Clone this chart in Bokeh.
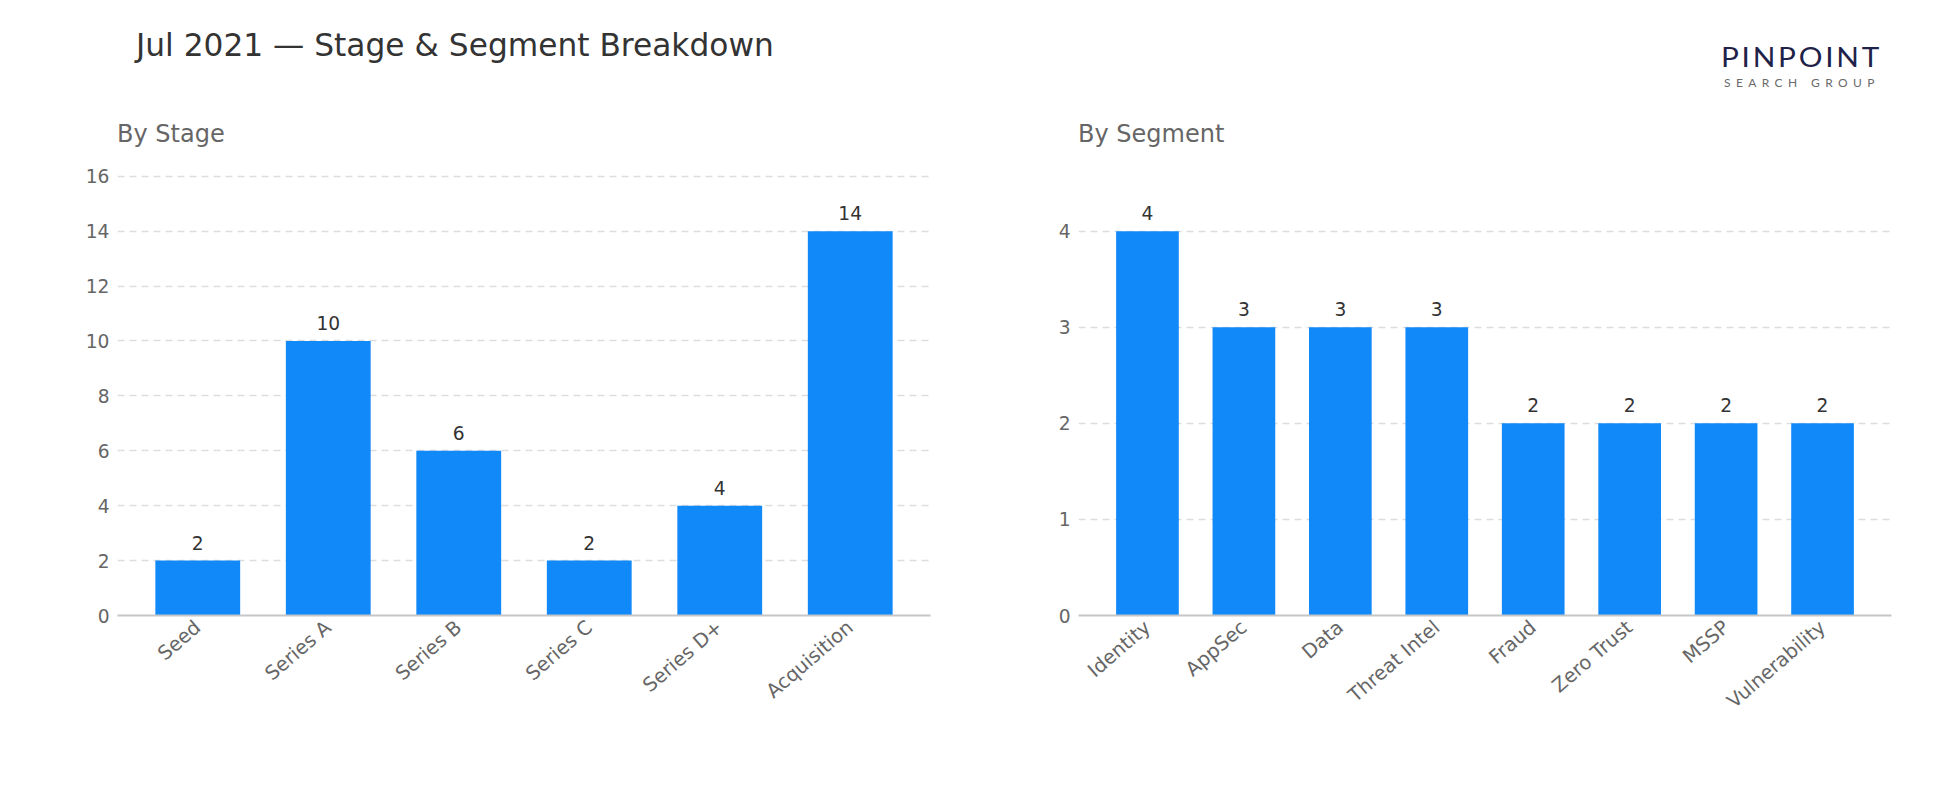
from bokeh.plotting import figure
from bokeh.layouts import column, row
from bokeh.models import ColumnDataSource, FixedTicker, LabelSet, Div, FactorRange
from bokeh.core.properties import value
from bokeh.embed import file_html
from bokeh.resources import INLINE

# ---- data -------------------------------------------------------------
title_text = "Jul 2021 — Stage & Segment Breakdown"

stage_title = "By Stage"
stage_categories = ["Seed", "Series A", "Series B", "Series C", "Series D+", "Acquisition"]
stage_counts = [2, 10, 6, 2, 4, 14]
stage_ticks = [0, 2, 4, 6, 8, 10, 12, 14, 16]

segment_title = "By Segment"
segment_categories = ["Identity", "AppSec", "Data", "Threat Intel", "Fraud",
                      "Zero Trust", "MSSP", "Vulnerability"]
segment_counts = [4, 3, 3, 3, 2, 2, 2, 2]
segment_ticks = [0, 1, 2, 3, 4]

# ---- styling ----------------------------------------------------------
BAR_COLOR = "#1189F9"
FONT = "DejaVu Sans"
TICK_COLOR = "#666666"
LABEL_COLOR = "#333333"
HEADER_H = 150
PANEL_H = 810 - HEADER_H


def bar_panel(cats, counts, ticks, width, border_left, border_right, pad):
    src = ColumnDataSource(dict(cat=cats, n=counts, lbl=[str(v) for v in counts]))
    p = figure(
        x_range=FactorRange(factors=cats, range_padding=pad,
                            range_padding_units="absolute"),
        y_range=(0, max(counts) * 1.15),
        width=width, height=PANEL_H,
        output_backend="svg", toolbar_location=None,
        min_border_left=border_left, min_border_right=border_right,
        min_border_top=23, min_border_bottom=195,
    )
    p.vbar(x="cat", top="n", width=0.65, source=src,
           fill_color=BAR_COLOR, line_color=None)

    labels = LabelSet(x="cat", y="n", text="lbl", source=src,
                      text_align="center", text_baseline="alphabetic",
                      y_offset=11, text_font=value(FONT),
                      text_font_size="14pt", text_color=LABEL_COLOR)
    p.add_layout(labels)

    p.outline_line_color = None
    p.background_fill_color = "white"
    p.border_fill_color = "white"

    p.xgrid.grid_line_color = None
    p.ygrid.grid_line_color = "#dddddd"
    p.ygrid.grid_line_width = 1.5
    p.ygrid.grid_line_dash = "7 5"

    p.yaxis.ticker = FixedTicker(ticks=ticks)
    p.yaxis.axis_line_color = None
    p.yaxis.major_tick_line_color = None
    p.yaxis.minor_tick_line_color = None
    p.yaxis.major_tick_out = 0
    p.yaxis.major_tick_in = 0
    p.yaxis.major_label_standoff = 8
    p.yaxis.major_label_text_font = FONT
    p.yaxis.major_label_text_font_size = "14pt"
    p.yaxis.major_label_text_color = TICK_COLOR

    p.xaxis.axis_line_color = "#c6c6c6"
    p.xaxis.axis_line_width = 2
    p.xaxis.major_tick_line_color = None
    p.xaxis.minor_tick_line_color = None
    p.xaxis.major_tick_out = 0
    p.xaxis.major_tick_in = 0
    p.xaxis.major_label_standoff = 9
    p.xaxis.major_label_orientation = 0.71
    p.xaxis.major_label_text_font = FONT
    p.xaxis.major_label_text_font_size = "19.5px"
    p.xaxis.major_label_text_color = TICK_COLOR
    return p


stage_fig = bar_panel(stage_categories, stage_counts, stage_ticks,
                      width=1000, border_left=117, border_right=70, pad=0.115)
segment_fig = bar_panel(segment_categories, segment_counts, segment_ticks,
                        width=950, border_left=78, border_right=59, pad=0.215)

header_html = f"""
<div style="position:relative;width:1950px;height:{HEADER_H}px;background:white;white-space:nowrap;">
  <span style="position:absolute;left:136px;top:30px;line-height:1;font-family:'DejaVu Sans';font-size:31.25px;color:#333333;">{title_text}</span>
  <span style="position:absolute;left:117px;top:121.5px;line-height:1;font-family:'DejaVu Sans';font-size:24px;color:#666666;">{stage_title}</span>
  <span style="position:absolute;left:1078px;top:121.5px;line-height:1;font-family:'DejaVu Sans';font-size:24px;color:#666666;">{segment_title}</span>
  <span style="position:absolute;left:1721px;top:43px;line-height:1;font-family:'Lato';font-size:27px;letter-spacing:2.5px;color:#1f2248;transform:scaleX(1.1);transform-origin:left top;">PINPOINT</span>
  <span style="position:absolute;left:1724px;top:76.5px;line-height:1;font-family:'Lato';font-size:12px;letter-spacing:5.4px;color:#6a6a6a;">SEARCH GROUP</span>
</div>
"""
header = Div(text=header_html, width=1950, height=HEADER_H,
             styles={"margin": "0", "padding": "0"})

layout = column(header, row(stage_fig, segment_fig, spacing=0), spacing=0)

with open("out.html", "w") as f:
    f.write(file_html(layout, INLINE, title=title_text))
